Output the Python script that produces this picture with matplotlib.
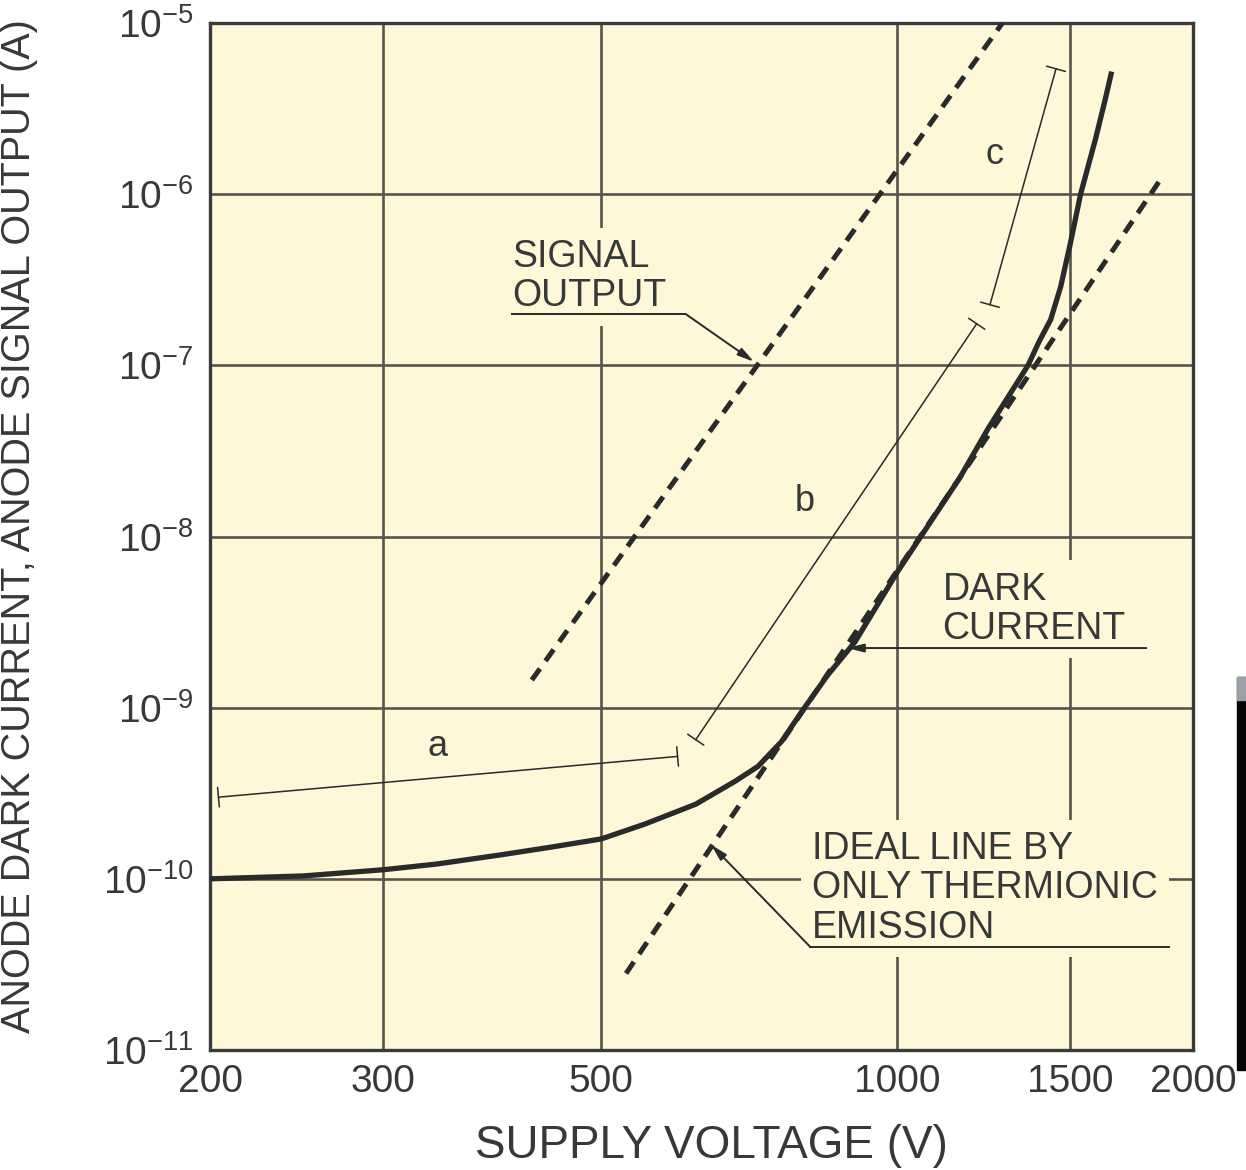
import math
import matplotlib
matplotlib.use("Agg")
import matplotlib.pyplot as plt
from matplotlib.ticker import FixedLocator, FixedFormatter, NullLocator, FuncFormatter
from matplotlib.patches import Rectangle

# Datos (tension en V, corriente en A)
dark_voltage = [200, 249, 300, 340, 395, 444, 500, 554, 624, 684, 722, 763, 800, 850,
                906, 1000, 1158, 1237, 1359, 1395, 1433, 1467, 1500, 1537, 1592,
                1629, 1653]
dark_current = [1.0e-10, 1.04e-10, 1.13e-10, 1.22e-10, 1.38e-10, 1.53e-10, 1.71e-10,
                2.09e-10, 2.73e-10, 3.71e-10, 4.54e-10, 6.35e-10, 9.5e-10, 1.55e-9,
                2.42e-9, 6.17e-9, 2.2e-8, 4.25e-8, 1.0e-7, 1.38e-7, 1.85e-7, 2.88e-7,
                5.1e-7, 1.0e-6, 2.11e-6, 3.61e-6, 5.2e-6]

signal_voltage = [425, 1280]
signal_current = [1.45e-9, 1.0e-5]

ideal_voltage = [530, 1850]
ideal_current = [2.8e-11, 1.2e-6]

x_ticks = [200, 300, 500, 1000, 1500, 2000]
x_tick_labels = ["200", "300", "500", "1000", "1500", "2000"]
y_ticks = [1e-11, 1e-10, 1e-9, 1e-8, 1e-7, 1e-6, 1e-5]

BG = "#FEF7D8"
INK = "#2a2a2a"
TXT = "#383838"
GRID = "#58544c"

plt.rcParams["font.family"] = ["Liberation Sans", "DejaVu Sans"]
plt.rcParams["mathtext.fontset"] = "custom"
plt.rcParams["mathtext.rm"] = "Liberation Sans"
plt.rcParams["mathtext.it"] = "Liberation Sans:italic"
plt.rcParams["mathtext.bf"] = "Liberation Sans:bold"


def bracket(ax, p0, p1):
    ax.annotate("", xy=p1, xytext=p0,
                arrowprops=dict(arrowstyle="|-|,widthA=0.5,widthB=0.5",
                                color=INK, lw=1.1, shrinkA=0, shrinkB=0,
                                mutation_scale=14),
                zorder=5)


def leader(ax, start, tip):
    ax.annotate("", xy=tip, xytext=start,
                arrowprops=dict(arrowstyle="-|>,head_length=0.7,head_width=0.18",
                                color=INK, lw=1.4, shrinkA=0, shrinkB=0,
                                mutation_scale=14),
                zorder=5)


def main():
    fig = plt.figure(figsize=(12.46, 11.70), dpi=100)
    ax = fig.add_axes([0.16854, 0.10256, 0.78892, 0.87778])
    ax.set_facecolor(BG)
    ax.set_xscale("log")
    ax.set_yscale("log")
    ax.set_xlim(200, 2000)
    ax.set_ylim(1e-11, 1e-5)

    # ejes y rejilla
    ax.xaxis.set_major_locator(FixedLocator(x_ticks))
    ax.xaxis.set_major_formatter(FixedFormatter(x_tick_labels))
    ax.xaxis.set_minor_locator(NullLocator())
    ax.yaxis.set_major_locator(FixedLocator(y_ticks))
    ax.yaxis.set_major_formatter(FuncFormatter(
        lambda v, pos: r"$\mathregular{10^{%d}}$" % round(math.log10(v))))
    ax.yaxis.set_minor_locator(NullLocator())
    ax.tick_params(axis="x", length=0, pad=10, labelsize=28, labelcolor=TXT)
    ax.tick_params(axis="y", length=0, pad=12, labelsize=28, labelcolor=TXT)
    ax.set_axisbelow(True)
    ax.grid(True, color=GRID, lw=1.9)
    for s in ax.spines.values():
        s.set_linewidth(2.4)
        s.set_color("#3a3a3a")

    ax.set_xlabel("SUPPLY VOLTAGE (V)", fontsize=33, color=TXT)
    ax.xaxis.set_label_coords(0.51, -0.072)
    ax.set_ylabel("ANODE DARK CURRENT, ANODE SIGNAL OUTPUT (A)", fontsize=28.5, color=TXT)
    ax.yaxis.set_label_coords(-0.175, 0.51)

    # curvas
    ax.plot(dark_voltage, dark_current, color=INK, lw=3.8,
            solid_capstyle="butt", solid_joinstyle="round", zorder=4)
    ax.plot(signal_voltage, signal_current, color=INK, lw=3.6,
            linestyle=(0, (2.8, 1.9)), dash_capstyle="butt", zorder=4)
    ax.plot(ideal_voltage, ideal_current, color=INK, lw=3.6,
            linestyle=(0, (2.8, 1.9)), dash_capstyle="butt", zorder=4)

    # cotas a, b, c
    bracket(ax, (204, 3.0e-10), (598, 5.19e-10))
    bracket(ax, (624, 6.5e-10), (1205, 1.75e-7))
    bracket(ax, (1243, 2.26e-7), (1451, 5.4e-6))
    lab = dict(fontsize=26, color=TXT, ha="center", va="center", zorder=5)
    ax.text(341, 5.9e-10, "a", **lab)
    ax.text(805, 1.6e-8, "b", **lab)
    ax.text(1256, 1.7e-6, "c", **lab)

    box = dict(boxstyle="square,pad=0.3", fc=BG, ec="none")
    tx = dict(fontsize=27, color=TXT, ha="left", va="center", linespacing=1.12,
              bbox=box, zorder=3)

    # SIGNAL OUTPUT
    ax.text(406, 3.3e-7, "SIGNAL\nOUTPUT", **tx)
    ax.plot([406, 609], [2.0e-7, 2.0e-7], color=INK, lw=1.4, zorder=5)
    leader(ax, (609, 2.0e-7), (715, 1.05e-7))

    # DARK CURRENT
    ax.text(1112, 3.75e-9, "DARK\nCURRENT", **tx)
    leader(ax, (1793, 2.23e-9), (890, 2.23e-9))

    # IDEAL LINE
    ax.text(820, 0.88e-10, "IDEAL LINE BY\nONLY THERMIONIC\nEMISSION", **tx)
    ax.plot([816, 1889], [4.0e-11, 4.0e-11], color=INK, lw=1.4, zorder=5)
    leader(ax, (816, 4.0e-11), (647, 1.58e-10))

    # franja oscura del borde derecho de la captura
    fig.add_artist(Rectangle((1237 / 1246, 100 / 1170), 9 / 1246, 393 / 1170,
                             transform=fig.transFigure, color="#050505", zorder=10))
    fig.add_artist(Rectangle((1237 / 1246, 470 / 1170), 9 / 1246, 23 / 1170,
                             transform=fig.transFigure, color="#9aa0a8", zorder=11))

    fig.savefig("out.png", dpi=100)


if __name__ == "__main__":
    main()
